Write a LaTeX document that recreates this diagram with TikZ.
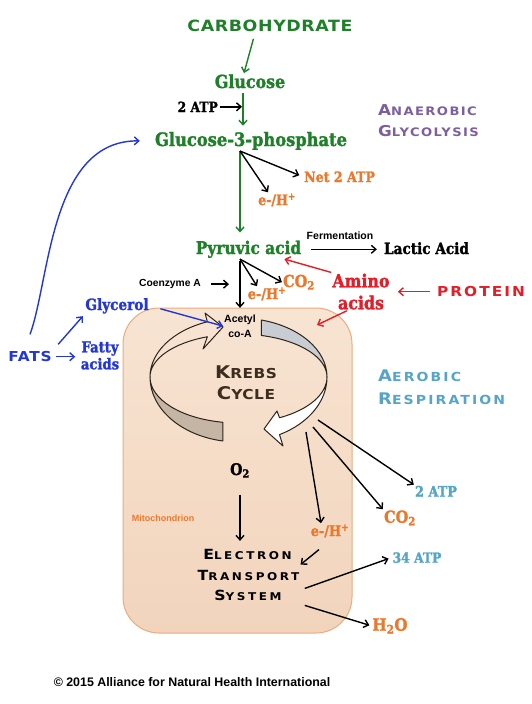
\documentclass[tikz,border=0pt]{standalone}
\usepackage{fontspec}
\usetikzlibrary{arrows.meta}
\newfontfamily\heavy[FakeStretch=0.88,FakeBold=1.6]{DejaVu Serif}
\newfontfamily\lsans{Liberation Sans}
\newfontfamily\copper[FakeStretch=1.12]{DejaVu Sans}
\definecolor{leaf}{RGB}{30,128,40}
\definecolor{tang}{RGB}{235,120,45}
\definecolor{ruby}{RGB}{228,30,40}
\definecolor{azure}{RGB}{35,55,215}
\definecolor{plum}{RGB}{125,95,160}
\definecolor{teal}{RGB}{85,165,200}
\definecolor{bark}{RGB}{60,45,30}
\definecolor{kline}{RGB}{45,35,25}
\definecolor{kgray}{RGB}{200,205,212}
\definecolor{kbrown}{RGB}{197,181,164}
\definecolor{peachtop}{RGB}{247,228,210}
\definecolor{peachbot}{RGB}{242,212,188}
\definecolor{peachedge}{RGB}{236,172,125}
% first letter large, rest in small capitals
\newcommand\capsc[4]{{\fontsize{#1}{#1}\selectfont#3\fontsize{#2}{#2}\selectfont#4}}

\begin{document}
\begin{tikzpicture}[x=1pt,y=-1pt,
    lbl/.style={inner sep=1pt,anchor=base},
    heavytxt/.style={lbl,font=\heavy\bfseries\fontsize{#1}{#1}\selectfont},
    sanstxt/.style={lbl,font=\lsans\bfseries\fontsize{#1}{#1}\selectfont},
    captxt/.style={lbl,font=\copper\bfseries\addfontfeatures{LetterSpace=#1}},
    arr/.style={-{Straight Barb[length=4.5pt,width=8pt]},line width=1.4pt},
    garr/.style={arr,draw=leaf},
    rarr/.style={arr,draw=ruby},
    barr/.style={arr,draw=azure},
    kribbon/.style={draw=kline,line width=1pt,line join=round},
    mitobox/.style={draw=peachedge,line width=1pt,rounded corners=36pt,
        top color=peachtop,bottom color=peachbot}]

    \fill[white] (0,0) rectangle (532,704);
    \useasboundingbox (0,0) rectangle (532,704);

    % mitochondrion and Krebs cycle
    \draw[mitobox] (123,308) rectangle (352,633);
    \coordinate (kc) at (238.5,377);
    \filldraw[kribbon,fill=kbrown] ([shift={(100.2:88.5 and 46)}]kc)
        arc[start angle=100.2,end angle=180,x radius=88.5,y radius=46]
        -- ([shift={(180:88.5 and 65)}]kc)
        arc[start angle=180,end angle=100.2,x radius=88.5,y radius=65] -- cycle;
    \draw[kribbon] ([shift={(180:88.5 and 59)}]kc)
        arc[start angle=180,end angle=249.4,x radius=88.5,y radius=59]
        -- (205,313) -- (223,327) -- (203,349)
        -- ([shift={(249.4:88.5 and 43)}]kc)
        arc[start angle=249.4,end angle=180,x radius=88.5,y radius=43] -- cycle;
    \filldraw[kribbon,fill=kgray] ([shift={(-75:88.5 and 59)}]kc)
        arc[start angle=-75,end angle=0,x radius=88.5,y radius=59]
        -- ([shift={(0:88.5 and 43)}]kc)
        arc[start angle=0,end angle=-75,x radius=88.5,y radius=43] -- cycle;
    \filldraw[kribbon,fill=white] ([shift={(0:88.5 and 46)}]kc)
        arc[start angle=0,end angle=62.4,x radius=88.5,y radius=46]
        -- (277,411) -- (264,429) -- (283,446)
        -- ([shift={(62.4:88.5 and 65)}]kc)
        arc[start angle=62.4,end angle=0,x radius=88.5,y radius=65] -- cycle;

    % glycolysis
    \node[captxt=4,text=leaf] (carb) at (270,31.6) {\capsc{15.5}{15.5}{C}{ARBOHYDRATE}};
    \node[heavytxt=18,text=leaf] (glc) at (250,88) {Glucose};
    \node[heavytxt=14,anchor=base east] (atpa) at (219,112) {2 ATP};
    \node[heavytxt=18.5,text=leaf] (g3p) at (251,146) {Glucose-3-phosphate};
    \node[captxt=12,text=plum,anchor=base west] (anaer1) at (377,115) {\capsc{15}{11.7}{A}{NAEROBIC}};
    \node[captxt=12,text=plum,anchor=base west] (anaer2) at (377,136.7) {\capsc{15}{11.7}{G}{LYCOLYSIS}};
    \node[heavytxt=14.3,text=tang,anchor=base west] (net) at (303,182) {Net 2 ATP};
    \node[heavytxt=14.3,text=tang] (eha) at (277,205) {e-/H\textsuperscript{+}};
    \node[heavytxt=17.5,text=leaf] (pyr) at (248.5,254) {Pyruvic acid};
    \node[sanstxt=10.5] (ferm) at (340,239) {Fermentation};
    \node[heavytxt=15.5] (lac) at (426.5,254) {Lactic Acid};
    \node[sanstxt=10.3] (coa) at (170,286.7) {Coenzyme A};
    \node[heavytxt=16.5,text=tang] (co2a) at (299,287) {CO\textsubscript{2}};
    \node[heavytxt=14.6,text=tang] (ehb) at (267,299) {e-/H\textsuperscript{+}};
    \node[heavytxt=18,text=ruby] (amino1) at (361,287.3) {Amino};
    \node[heavytxt=18,text=ruby] (amino2) at (361,309.3) {acids};
    \node[captxt=15,text=ruby] (prot) at (481,296.7) {\capsc{13.7}{13.7}{P}{ROTEIN}};
    \node[heavytxt=15.5,text=azure] (glyc) at (117,310) {Glycerol};
    \node[captxt=6,text=azure] (fats) at (30,361.7) {\capsc{13.7}{13.7}{F}{ATS}};
    \node[heavytxt=15,text=azure] (fatty1) at (100,352.3) {Fatty};
    \node[heavytxt=15,text=azure] (fatty2) at (100,369.3) {acids};
    \node[sanstxt=10.5] (acet1) at (240,322.7) {Acetyl};
    \node[sanstxt=10.5] (acet2) at (240,337.3) {co-A};

    % aerobic part
    \node[captxt=4,text=bark] (krebs1) at (246,378.3) {\capsc{17.5}{13.7}{K}{REBS}};
    \node[captxt=4,text=bark] (krebs2) at (246,399) {\capsc{17.5}{13.7}{C}{YCLE}};
    \node[captxt=17,text=teal,anchor=base west] (aer1) at (377,381.7) {\capsc{16}{12.5}{A}{EROBIC}};
    \node[captxt=17,text=teal,anchor=base west] (aer2) at (377,404) {\capsc{16}{12.5}{R}{ESPIRATION}};
    \node[heavytxt=14.6,text=teal] (atpb) at (436,496.7) {2 ATP};
    \node[heavytxt=16.5,text=tang] (co2b) at (400,522.7) {CO\textsubscript{2}};
    \node[heavytxt=14.6,text=tang] (ehc) at (330,536) {e-/H\textsuperscript{+}};
    \node[heavytxt=16] (o2) at (240,475) {O\textsubscript{2}};
    \node[sanstxt=9,text=tang] (mito) at (163,521.7) {Mitochondrion};
    \node[captxt=24] (ets1) at (247.5,559.3) {\capsc{14}{10.7}{E}{LECTRON}};
    \node[captxt=24] (ets2) at (248.5,580) {\capsc{14}{10.7}{T}{RANSPORT}};
    \node[captxt=24] (ets3) at (248,600) {\capsc{14}{10.7}{S}{YSTEM}};
    \node[heavytxt=14,text=teal] (atpc) at (417,562.7) {34 ATP};
    \node[heavytxt=17,text=tang] (water) at (390,630.7) {H\textsubscript{2}O};
    \node[sanstxt=12.4] (copy) at (192,686) {© 2015 Alliance for Natural Health International};

    \coordinate (colA) at (243,0);
    \coordinate (colB) at (240,0);
    \coordinate (aminoin) at (317,325);
    \coordinate (kout1) at (318,420);
    \coordinate (kout2) at (313,427);
    \coordinate (kout3) at (306,432);

    % connectors
    \draw[garr,shorten <=6pt] ([xshift=-15pt]carb.south) -- ([xshift=-6pt]glc.north);
    \draw[garr,shorten <=4pt,shorten >=5pt] (glc.south -| colA) -- (g3p.north -| colA);
    \draw[arr,shorten <=1pt,shorten >=1pt] (atpa.east) -- (atpa.east -| colA);
    \draw[garr,shorten >=7pt] (g3p.south -| colB) -- (pyr.north -| colB);
    \draw[arr,shorten >=4pt] (g3p.south -| colB) -- (net.west);
    \draw[arr] (g3p.south -| colB) -- ([xshift=-9pt]eha.north);
    \draw[arr,shorten <=9pt,shorten >=6pt] (pyr.east) -- (pyr.east -| lac.west);
    \draw[arr,shorten <=2pt,shorten >=6pt] (pyr.south -| colB) -- (acet1.north -| colB);
    \draw[arr] (pyr.south -| colB) -- (co2a.west);
    \draw[arr] (pyr.south -| colB) -- ([xshift=-10pt]ehb.north);
    \draw[arr,shorten <=9pt,shorten >=11pt] (coa.east) -- (coa.east -| colB);
    \draw[rarr] (amino1.north west) -- ([xshift=-18pt]pyr.south east);
    \draw[rarr,shorten <=6pt] (prot.west) -- ([xshift=-38pt]prot.west);
    \draw[rarr] ([xshift=10pt]amino2.south west) -- (aminoin);
    \draw[barr,shorten <=11pt] (glyc.east) -- (acet1.south west);
    \draw[barr,shorten <=8pt,shorten >=2pt] (fats.north east) -- (glyc.south west);
    \draw[barr,shorten <=3pt,shorten >=5pt] (fats.east) -- (fats.east -| fatty1.west);
    \draw[barr] ([yshift=16pt]fats.north) .. controls (50,280) and (50,140) .. ([xshift=-14pt]g3p.west);

    \draw[arr] (kout1) -- (atpb.north west);
    \draw[arr] (kout2) -- (co2b.north west);
    \draw[arr] (kout3) -- ([xshift=-9pt]ehc.north);
    \draw[arr,shorten <=16pt,shorten >=7pt] (o2.south) -- (o2.south |- ets1.north);
    \draw[arr] ([xshift=-11pt,yshift=-11pt]ehc.south) -- ([yshift=4pt]ets2.north east);
    \draw[arr,shorten >=3pt] ([xshift=22pt]ets3.north east) -- (atpc.west);
    \draw[arr,shorten >=2pt] ([xshift=22pt,yshift=-4pt]ets3.south east) -- (water.west);
\end{tikzpicture}
\end{document}
